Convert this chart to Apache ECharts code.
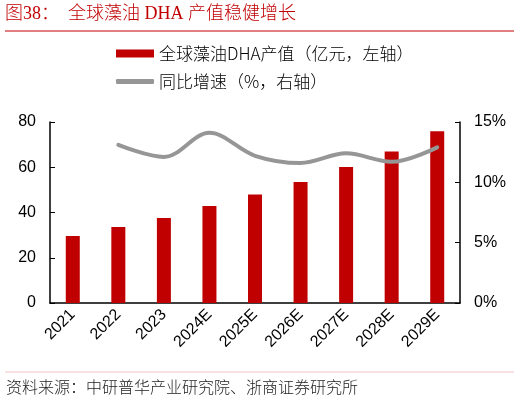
<!DOCTYPE html>
<html>
<head>
<meta charset="utf-8">
<script src="https://cdn.jsdelivr.net/npm/echarts@6/dist/echarts.min.js"></script>
<style>
  html, body { margin: 0; padding: 0; background: #fff; }
  #chart { width: 520px; height: 402px; }
</style>
</head>
<body>
<div id="chart"></div>
<script>
// 数据
const years = ['2021', '2022', '2023', '2024E', '2025E', '2026E', '2027E', '2028E', '2029E'];
const output = [29.6, 33.6, 37.6, 42.9, 48.0, 53.5, 60.1, 67.0, 75.9]; // 亿元
const growth = [null, 13.1, 12.1, 14.1, 12.2, 11.6, 12.4, 11.7, 12.9]; // %
const leftTicks = [0, 80, 20];
const rightTicks = [0, 15, 5];

const barName = '全球藻油DHA产值（亿元，左轴）';
const lineName = '同比增速（%，右轴）';

const myChart = echarts.init(document.getElementById('chart'));
const axisColor = '#000';
const legendText = { fontSize: 17, fontWeight: 300, color: '#000', fontFamily: '"Noto Sans CJK SC"', letterSpacing: 0.8 };

myChart.setOption({
    animation: false,
    grid: { left: 50, right: 60, top: 122, bottom: 99 },
    graphic: [
        {
            type: 'text', left: 5, top: 5,
            style: {
                text: '图38：  全球藻油 DHA 产值稳健增长',
                font: '300 18px "Liberation Serif", "Noto Sans CJK SC"',
                fill: '#C00000'
            }
        },
        {
            type: 'line',
            shape: { x1: 5, y1: 31, x2: 514, y2: 31 },
            style: { stroke: '#C00000', lineWidth: 1 }
        },
        {
            type: 'line',
            shape: { x1: 5, y1: 372, x2: 514, y2: 372 },
            style: { stroke: '#F2C4C4', lineWidth: 1 }
        },
        {
            type: 'text', left: 6, top: 379,
            style: {
                text: '资料来源：中研普华产业研究院、浙商证券研究所',
                font: '300 16px "Noto Sans CJK SC"',
                fill: '#222'
            }
        }
    ],
    legend: [
        {
            left: 111, top: 40,
            itemWidth: 38, itemHeight: 8,
            textStyle: legendText,
            data: [{ name: barName, icon: 'rect' }]
        },
        {
            left: 111, top: 68,
            itemWidth: 38, itemHeight: 5,
            textStyle: legendText,
            data: [{ name: lineName, icon: 'roundRect', itemStyle: { color: '#969696' } }]
        }
    ],
    xAxis: {
        type: 'category',
        data: years,
        axisLine: { lineStyle: { color: axisColor, width: 1.5 } },
        axisTick: { show: true, inside: true, alignWithLabel: true, length: 4, lineStyle: { color: axisColor } },
        axisLabel: { rotate: 45, fontSize: 16, color: '#000', fontFamily: 'Arial, "Liberation Sans"', margin: 9 }
    },
    yAxis: [
        {
            type: 'value',
            min: leftTicks[0], max: leftTicks[1], interval: leftTicks[2],
            splitLine: { show: false },
            axisLine: { show: true, lineStyle: { color: axisColor, width: 1.5 } },
            axisTick: { show: true, inside: true, length: 5, lineStyle: { color: axisColor } },
            axisLabel: { fontSize: 16, color: '#000', fontFamily: 'Arial, "Liberation Sans"', margin: 14 }
        },
        {
            type: 'value',
            min: rightTicks[0], max: rightTicks[1], interval: rightTicks[2],
            splitLine: { show: false },
            axisLine: { show: true, lineStyle: { color: axisColor, width: 1.5 } },
            axisTick: { show: true, inside: true, length: 5, lineStyle: { color: axisColor } },
            axisLabel: { fontSize: 16, color: '#000', fontFamily: 'Arial, "Liberation Sans"', margin: 14, formatter: '{value}%' }
        }
    ],
    series: [
        {
            name: barName,
            type: 'bar',
            data: output,
            barWidth: 14,
            itemStyle: { color: '#C00000' }
        },
        {
            name: lineName,
            type: 'line',
            yAxisIndex: 1,
            data: growth,
            smooth: 0.35,
            symbol: 'none',
            lineStyle: { color: '#969696', width: 4, cap: 'round' },
            itemStyle: { color: '#969696' }
        }
    ]
});
</script>
</body>
</html>
